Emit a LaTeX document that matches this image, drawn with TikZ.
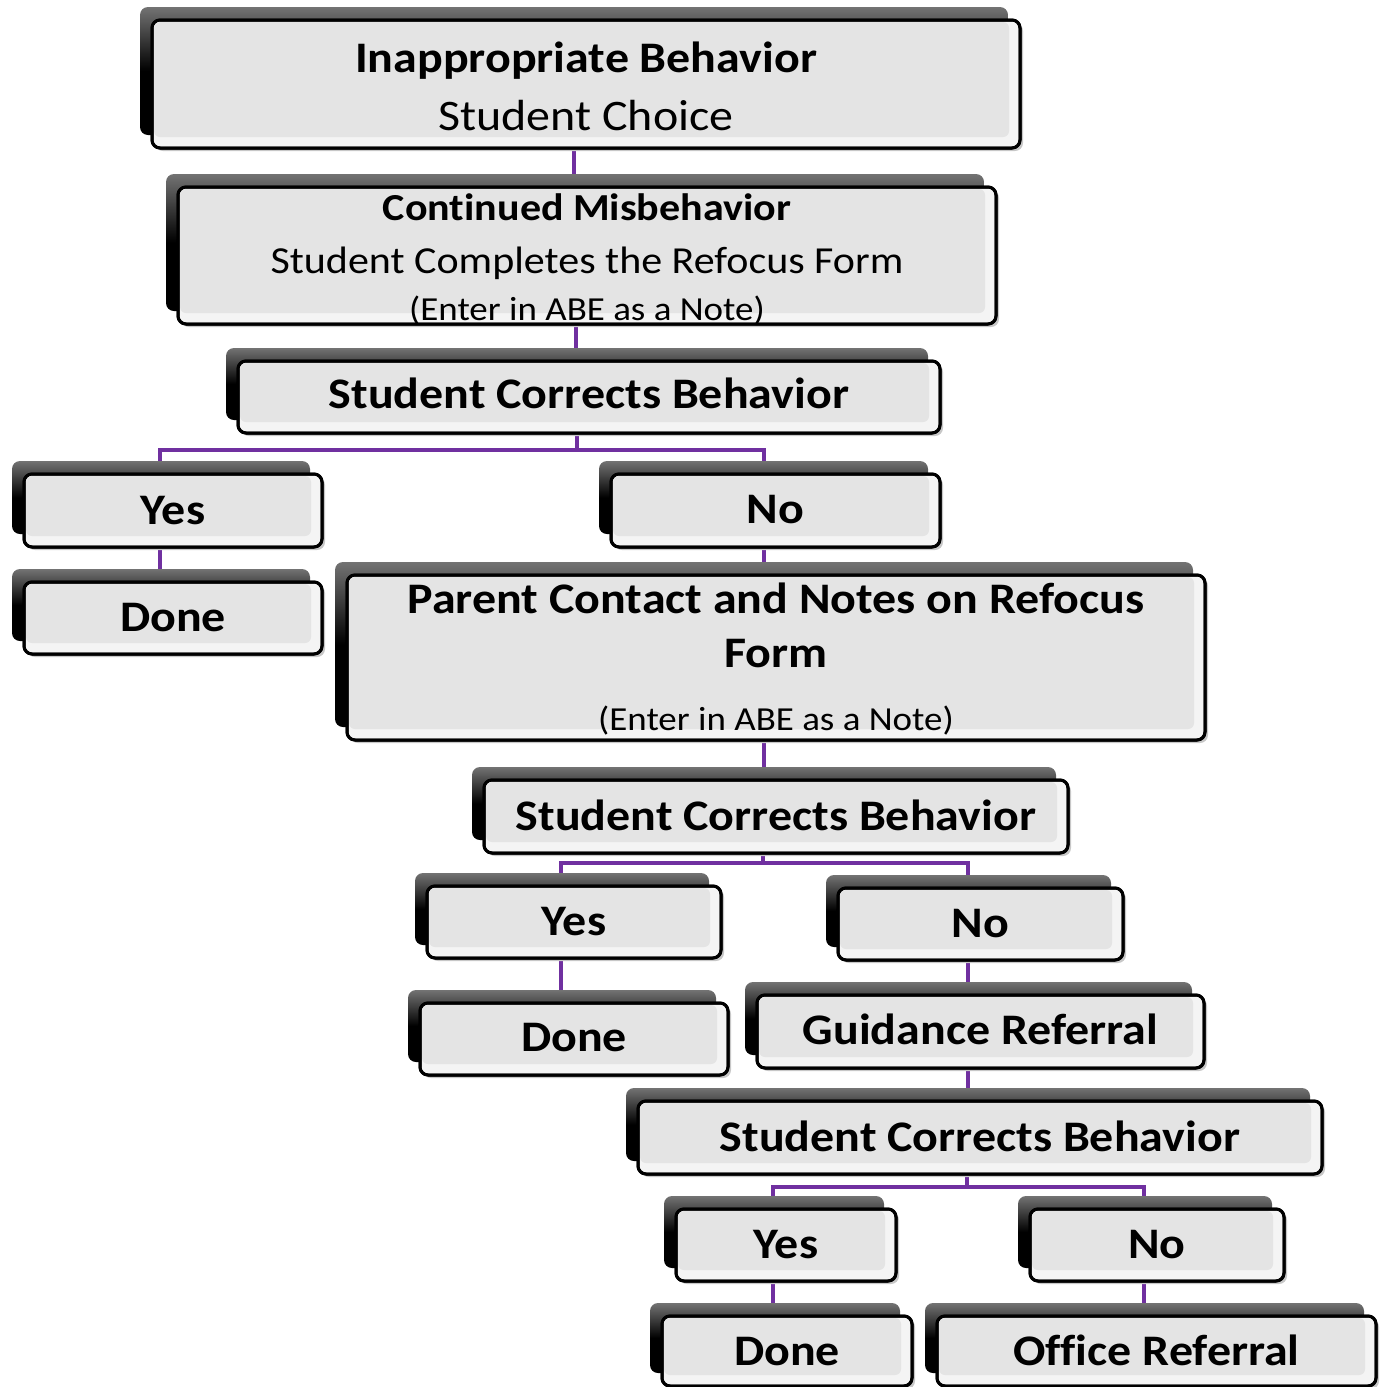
\documentclass[tikz,border=0pt]{standalone}
\usepackage{fontspec}
\usepackage{graphicx}
\setmainfont{Carlito}[Ligatures=NoCommon]
\usetikzlibrary{backgrounds}
\definecolor{conncol}{HTML}{7030A0}
\definecolor{boxfill}{HTML}{E4E4E4}
\definecolor{boxlight}{HTML}{F4F4F4}
\tikzset{
  frontbox/.style={draw=black, line width=3pt, fill=boxlight, rounded corners=8pt, inner sep=0pt, outer sep=0pt},
  innerband/.style={fill=boxfill, rounded corners=6pt},
  shadowbox/.style={rounded corners=8pt, top color=black!55, bottom color=black, middle color=black},
  softshadow/.style={fill=black!22, rounded corners=8pt},
  conn/.style={draw=conncol, line width=4pt},
  boxtext/.style={anchor=base, inner sep=0pt, text=black},
  bigtxt/.style={boxtext, font=\fontsize{43.6}{52}\selectfont\bfseries},
  midbold/.style={boxtext, font=\fontsize{38.2}{46}\selectfont\bfseries},
  midreg/.style={boxtext, font=\fontsize{38.2}{46}\selectfont},
  topreg/.style={boxtext, font=\fontsize{43.6}{52}\selectfont},
  smalltxt/.style={boxtext, font=\fontsize{33.6}{40}\selectfont},
}
% \bx{name}{x1}{y1}{x2}{y2}
\newcommand\bx[5]{%
  \path[shadowbox] (#2-12,#3-13) rectangle (#4-12,#5-13);
  \path[softshadow] (#2+3,#3+3) rectangle (#4+3,#5+3);
  \node[frontbox, minimum width={(#4-#2)*1pt}, minimum height={(#5-#3)*1pt}]
    (#1) at ({(#2+#4)/2},{(#3+#5)/2}) {};
  \path[innerband] (#2+2,#3+2) rectangle (#4-11,#5-11);
  \draw[line width=3pt, rounded corners=8pt] (#2,#3) rectangle (#4,#5);
}
% \tx[style]{name}{box}{baseline offset from box top}{text}
\newcommand\tx[5][bigtxt]{%
  \node[#1] (#2) at ([yshift=-#4pt]#3.north) {\scalebox{1.1}[1]{#5}};
}
\begin{document}
\begin{tikzpicture}[x=1pt, y=-1pt]
\useasboundingbox (0,0) rectangle (1382,1387);
\bx{top}{152}{20}{1020}{148}
\tx{topA}{top}{52}{Inappropriate Behavior}
\tx[topreg]{topB}{top}{110}{Student Choice}
\bx{cont}{178}{187}{996}{324}
\tx[midbold]{contA}{cont}{33}{Continued Misbehavior}
\tx[midreg]{contB}{cont}{86}{Student Completes the Refocus Form}
\tx[smalltxt]{contC}{cont}{133}{(Enter in ABE as a Note)}
\bx{scbA}{238}{361}{940}{433}
\tx{scbAt}{scbA}{47}{Student Corrects Behavior}
\bx{yesA}{24}{474}{322}{547}
\tx{yesAt}{yesA}{50}{Yes}
\bx{noA}{611}{474}{940}{547}
\tx{noAt}{noA}{49}{No}
\bx{doneA}{24}{582}{322}{654}
\tx{doneAt}{doneA}{49}{Done}
\bx{parent}{347}{575}{1205}{740}
\tx{parentA}{parent}{38}{Parent Contact and Notes on Refocus}
\tx{parentB}{parent}{92}{Form}
\tx[smalltxt]{parentC}{parent}{155}{(Enter in ABE as a Note)}
\bx{scbB}{484}{780}{1068}{853}
\tx{scbBt}{scbB}{50}{Student Corrects Behavior}
\bx{yesB}{427}{886}{721}{958}
\tx{yesBt}{yesB}{49}{Yes}
\bx{noB}{838}{888}{1123}{960}
\tx{noBt}{noB}{49}{No}
\bx{doneB}{420}{1003}{728}{1075}
\tx{doneBt}{doneB}{48}{Done}
\bx{guid}{757}{995}{1204}{1068}
\tx{guidt}{guid}{49}{Guidance Referral}
\bx{scbC}{638}{1101}{1322}{1174}
\tx{scbCt}{scbC}{50}{Student Corrects Behavior}
\bx{yesC}{676}{1209}{896}{1281}
\tx{yesCt}{yesC}{49}{Yes}
\bx{noC}{1030}{1209}{1284}{1281}
\tx{noCt}{noC}{49}{No}
\bx{doneC}{662}{1316}{912}{1386}
\tx{doneCt}{doneC}{49}{Done}
\bx{office}{937}{1316}{1376}{1386}
\tx{officet}{office}{49}{Office Referral}
\begin{pgfonlayer}{background}
  \draw[conn] ([xshift=-12pt]top.center) -- ([xshift=-12pt]top.center |- cont.center);
  \draw[conn] ([xshift=-11pt]cont.center) -- ([xshift=-11pt]cont.center |- scbA.center);
  \draw[conn] ([xshift=-12pt]scbA.center) -- ([xshift=-12pt,yshift=-17pt]scbA.south)
     -| ([xshift=-13pt]yesA.center);
  \draw[conn] ([xshift=-12pt,yshift=-17pt]scbA.south) -| ([xshift=-12pt]noA.center);
  \draw[conn] ([xshift=-13pt]yesA.center) -- ([xshift=-13pt]doneA.center);
  \draw[conn] ([xshift=-12pt]noA.center) -- ([xshift=-12pt]noA.center |- parent.center);
  \draw[conn] ([xshift=-12pt]parent.center |- noA.center) -- ([xshift=-12pt]parent.center |- scbB.center);
  \draw[conn] ([xshift=-13pt]scbB.center) -- ([xshift=-13pt,yshift=-10pt]scbB.south)
     -| ([xshift=-13pt]yesB.center);
  \draw[conn] ([xshift=-13pt,yshift=-10pt]scbB.south) -| ([xshift=-13pt]noB.center);
  \draw[conn] ([xshift=-13pt]yesB.center) -- ([xshift=-13pt]yesB.center |- doneB.center);
  \draw[conn] ([xshift=-13pt]noB.center) -- ([xshift=-13pt]noB.center |- guid.center);
  \draw[conn] ([xshift=-13pt]guid.center) -- ([xshift=-13pt]guid.center |- scbC.center);
  \draw[conn] ([xshift=-13pt]scbC.center) -- ([xshift=-13pt,yshift=-13pt]scbC.south)
     -| ([xshift=-13pt]yesC.center);
  \draw[conn] ([xshift=-13pt,yshift=-13pt]scbC.south) -| ([xshift=-13pt]noC.center);
  \draw[conn] ([xshift=-13pt]yesC.center) -- ([xshift=-13pt]yesC.center |- doneC.center);
  \draw[conn] ([xshift=-13pt]noC.center) -- ([xshift=-13pt]noC.center |- office.center);
\end{pgfonlayer}
\end{tikzpicture}
\end{document}
